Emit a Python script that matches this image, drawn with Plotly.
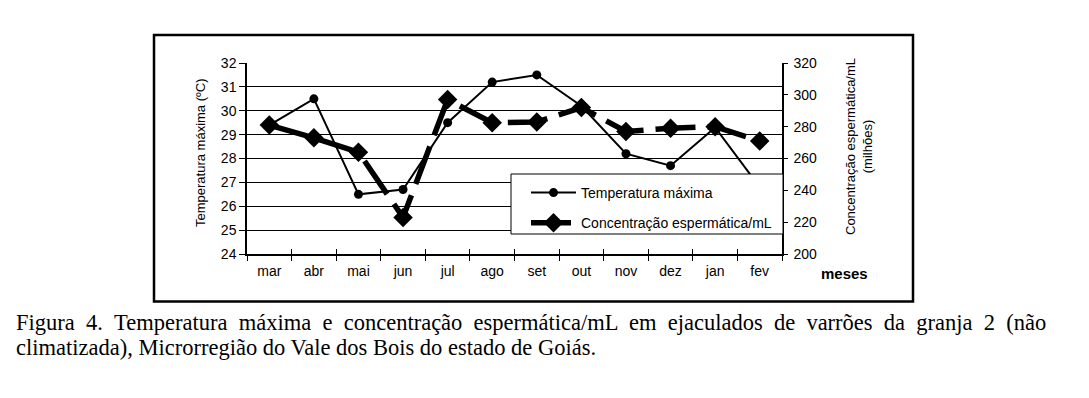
import plotly.graph_objects as go

# ---- data ----
months = ["mar", "abr", "mai", "jun", "jul", "ago", "set", "out", "nov", "dez", "jan", "fev"]
temp_max = [29.4, 30.5, 26.5, 26.7, 29.5, 31.2, 31.5, 30.2, 28.2, 27.7, 29.3, 26.8]
conc = [281, 273, 264, 223, 297, 282.5, 283, 292, 277, 279, 280, 271]

temp_ticks = [24, 25, 26, 27, 28, 29, 30, 31, 32]
conc_ticks = [200, 220, 240, 260, 280, 300, 320]

name_temp = "Temperatura máxima"
name_conc = "Concentração espermática/mL"
title_left = "Temperatura máxima (ºC)"
title_right = "Concentração espermática/mL<br>(milhões)"
x_title = "meses"
caption_line1 = ["Figura", "4.", "Temperatura", "máxima", "e", "concentração", "espermática/mL",
                 "em", "ejaculados", "de", "varrões", "da", "granja", "2", "(não"]
caption_line2 = "climatizada), Microrregião do Vale dos Bois do estado de Goiás."

# ---- layout geometry (page pixels; the page body has an 8px margin) ----
OFF = 8
W, H = 1089 - 2 * OFF, 398 - 2 * OFF
L, R, T, B = 247, 782, 63, 254   # plot area in page pixels


def px(x):
    return (x - L) / (R - L)


def py(y):
    return (B - y) / (B - T)


SANS = "Liberation Sans, Arial, sans-serif"
SERIF = "Liberation Serif, Times New Roman, serif"

fig = go.Figure()

fig.add_trace(go.Scatter(
    x=months, y=temp_max, name=name_temp, mode="lines+markers",
    line=dict(color="black", width=2),
    marker=dict(symbol="circle", size=9, color="black"),
    legendgroup="t", xaxis="x", yaxis="y",
))
fig.add_trace(go.Scatter(
    x=months, y=conc, name=name_conc, mode="lines+markers",
    line=dict(color="black", width=5.5, dash="40px,12px"),
    marker=dict(symbol="diamond", size=15, color="black"),
    legendgroup="c", xaxis="x", yaxis="y2",
))
# invisible trace so that the overlaying x axis (inner half of the crossing ticks) is drawn
fig.add_trace(go.Scatter(x=months, y=temp_max, xaxis="x2", yaxis="y",
                         mode="lines", line=dict(width=0), opacity=0,
                         showlegend=False, hoverinfo="skip"))

fig.update_layout(
    width=W, height=H,
    margin=dict(l=L - OFF, r=W - (R - OFF), t=T - OFF, b=H - (B - OFF), pad=0),
    paper_bgcolor="white", plot_bgcolor="white",
    font=dict(family=SANS, color="black", size=14),
    showlegend=True,
    legend=dict(
        x=px(526), y=py(177), xanchor="left", yanchor="top",
        bgcolor="rgba(0,0,0,0)", borderwidth=0,
        font=dict(family=SANS, size=14, color="black"),
        tracegroupgap=9, traceorder="grouped", itemwidth=45,
    ),
    xaxis=dict(
        type="category", categoryorder="array", categoryarray=months,
        range=[-0.5, len(months) - 0.5],
        tickson="boundaries", ticks="outside", ticklen=5, tickwidth=1, tickcolor="black",
        showline=True, linecolor="black", linewidth=2,
        showgrid=False, zeroline=False, ticklabelstandoff=3,
        tickfont=dict(family=SANS, size=14),
    ),
    xaxis2=dict(
        type="category", categoryorder="array", categoryarray=months,
        range=[-0.5, len(months) - 0.5], overlaying="x", anchor="y",
        tickson="boundaries", ticks="inside", ticklen=5, tickwidth=1, tickcolor="black",
        showticklabels=False, showline=False, showgrid=False, zeroline=False,
    ),
    yaxis=dict(
        range=[24, 32], tickvals=temp_ticks,
        ticks="outside", ticklen=6, tickwidth=1, tickcolor="black",
        showline=True, linecolor="black", linewidth=1.5,
        showgrid=True, gridcolor="#000", gridwidth=1, zeroline=False,
        tickfont=dict(family=SANS, size=14),
    ),
    yaxis2=dict(
        range=[200, 320], tickvals=conc_ticks, overlaying="y", side="right", anchor="x",
        ticks="outside", ticklen=4, tickwidth=1, tickcolor="black",
        showline=True, linecolor="black", linewidth=1.5,
        showgrid=False, zeroline=False, ticklabelstandoff=3,
        tickfont=dict(family=SANS, size=14),
    ),
)

shapes = [
    # outer frame
    dict(type="rect", xref="paper", yref="paper",
         x0=px(154), x1=px(913), y0=py(301.5), y1=py(35),
         line=dict(color="black", width=2.5), fillcolor="rgba(0,0,0,0)", layer="above"),
    # legend box
    dict(type="rect", xref="paper", yref="paper",
         x0=px(511), x1=px(783), y0=py(234), y1=py(174),
         line=dict(color="black", width=1), fillcolor="white", layer="above"),
]
fig.update_layout(shapes=shapes)

# first caption line is justified in the reference: widen each word gap evenly
line1 = (" \u00a0").join(caption_line1)

annotations = [
    dict(text=title_left, textangle=-90, x=px(200), y=py(153), xref="paper", yref="paper",
         xanchor="center", yanchor="middle", showarrow=False,
         font=dict(family=SANS, size=13)),
    dict(text=title_right, textangle=-90, x=px(859), y=py(147), xref="paper", yref="paper",
         xanchor="center", yanchor="middle", showarrow=False,
         font=dict(family=SANS, size=13)),
    dict(text="<b>" + x_title + "</b>", x=px(844), y=py(273), xref="paper", yref="paper",
         xanchor="center", yanchor="middle", showarrow=False,
         font=dict(family=SANS, size=15)),
    dict(text=line1, x=px(14), y=py(322), xref="paper", yref="paper",
         xanchor="left", yanchor="middle", showarrow=False, align="left",
         font=dict(family=SERIF, size=22.5)),
    dict(text=caption_line2, x=px(14), y=py(347), xref="paper", yref="paper",
         xanchor="left", yanchor="middle", showarrow=False, align="left",
         font=dict(family=SERIF, size=22.5)),
]
fig.update_layout(annotations=annotations)

fig.write_html("out.html")
